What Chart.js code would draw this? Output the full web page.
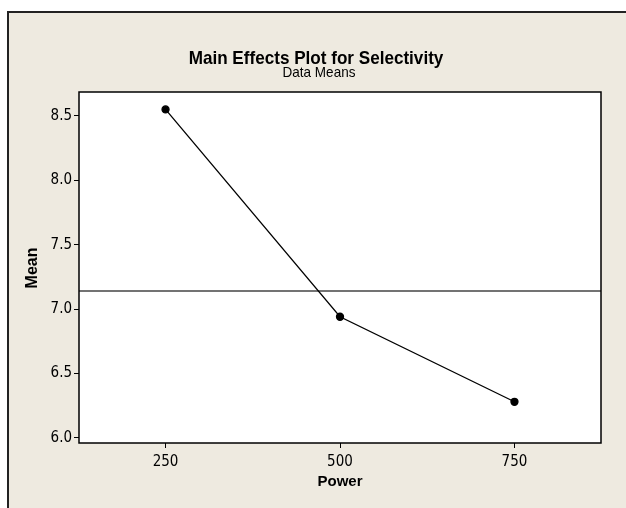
<!DOCTYPE html>
<html>
<head>
<meta charset="utf-8">
<script src="https://cdn.jsdelivr.net/npm/chart.js@4"></script>
<style>
html,body{margin:0;padding:0;background:#fff;}
canvas{display:block;}
</style>
</head>
<body>
<canvas id="c" width="626" height="508"></canvas>
<script>
// ---- data ----
const powerLevels = [250, 500, 750];
const meanValues = [8.55, 6.94, 6.28];
const grandMean = 7.14;
const xTickValues = [250, 500, 750];
const yTickValues = [6.0, 6.5, 7.0, 7.5, 8.0, 8.5];
const chartTitle = "Main Effects Plot for Selectivity";
const chartSubtitle = "Data Means";
const xAxisTitle = "Power";
const yAxisTitle = "Mean";

const NARROW = '"DejaVu Sans Condensed","Liberation Sans Narrow",sans-serif';
const SANS = '"Liberation Sans",Arial,sans-serif';
const BEIGE = '#eeeae0';

function condensedText(ctx, text, x, y, font, sx) {
  ctx.save();
  ctx.font = font;
  ctx.translate(x, y);
  ctx.scale(sx, 1);
  ctx.fillText(text, 0, 0);
  ctx.restore();
}

const decor = {
  id: 'decor',
  beforeDraw(chart) {
    const ctx = chart.ctx, a = chart.chartArea;
    ctx.save();
    ctx.fillStyle = '#ffffff';
    ctx.fillRect(0, 0, chart.width, chart.height);
    ctx.fillStyle = BEIGE;
    ctx.fillRect(7, 11, chart.width, chart.height);
    ctx.strokeStyle = '#222';
    ctx.lineWidth = 2;
    ctx.beginPath();
    ctx.moveTo(8, chart.height); ctx.lineTo(8, 12); ctx.lineTo(chart.width, 12);
    ctx.stroke();
    ctx.fillStyle = '#ffffff';
    ctx.fillRect(a.left, a.top, a.right - a.left, a.bottom - a.top);
    // grand mean reference line
    const y = chart.scales.y.getPixelForValue(grandMean);
    ctx.strokeStyle = '#444';
    ctx.lineWidth = 1.6;
    ctx.beginPath();
    ctx.moveTo(a.left, y); ctx.lineTo(a.right, y);
    ctx.stroke();
    ctx.restore();
  },
  afterDraw(chart) {
    const ctx = chart.ctx, a = chart.chartArea;
    ctx.save();
    ctx.strokeStyle = '#000';
    ctx.lineWidth = 1.5;
    ctx.strokeRect(a.left, a.top, a.right - a.left, a.bottom - a.top);
    ctx.fillStyle = '#000';
    ctx.textAlign = 'center';
    ctx.textBaseline = 'middle';
    condensedText(ctx, chartTitle, 316, 59, 'bold 19px ' + SANS, 0.9);
    condensedText(ctx, chartSubtitle, 319, 73, '15px ' + SANS, 0.9);
    ctx.font = 'bold 15px ' + SANS;
    ctx.fillText(xAxisTitle, 340, 482);
    ctx.translate(33, 268);
    ctx.rotate(-Math.PI / 2);
    ctx.font = 'bold 16px ' + SANS;
    ctx.fillText(yAxisTitle, 0, 0);
    ctx.restore();
  }
};

new Chart(document.getElementById('c'), {
  type: 'line',
  data: {
    datasets: [{
      data: powerLevels.map((p, i) => ({x: p, y: meanValues[i]})),
      borderColor: '#000',
      borderWidth: 1.3,
      backgroundColor: '#000',
      pointBackgroundColor: '#000',
      pointBorderColor: '#000',
      pointRadius: 3.5,
      tension: 0,
      fill: false
    }]
  },
  options: {
    responsive: false,
    animation: false,
    events: [],
    layout: {padding: {top: 92, right: 25, left: 0, bottom: 0}},
    plugins: {legend: {display: false}, title: {display: false}, tooltip: {enabled: false}},
    scales: {
      x: {
        type: 'linear', min: 126, max: 874,
        afterBuildTicks(s) { s.ticks = xTickValues.map(v => ({value: v})); },
        afterFit(s) { s.height = 65; },
        grid: {drawOnChartArea: false, drawTicks: true, tickLength: 5, color: '#000', lineWidth: 1},
        border: {display: false},
        ticks: {color: '#000', font: {family: NARROW, size: 15}, padding: 5, maxRotation: 0,
                callback: v => String(v)}
      },
      y: {
        type: 'linear', min: 5.96, max: 8.685,
        afterBuildTicks(s) { s.ticks = yTickValues.map(v => ({value: v})); },
        afterFit(s) { s.width = 79; },
        grid: {drawOnChartArea: false, drawTicks: true, tickLength: 5, color: '#000', lineWidth: 1},
        border: {display: false},
        ticks: {color: '#000', font: {family: NARROW, size: 15}, padding: 2,
                callback: v => Number(v).toFixed(1)}
      }
    }
  },
  plugins: [decor]
});
</script>
</body>
</html>
